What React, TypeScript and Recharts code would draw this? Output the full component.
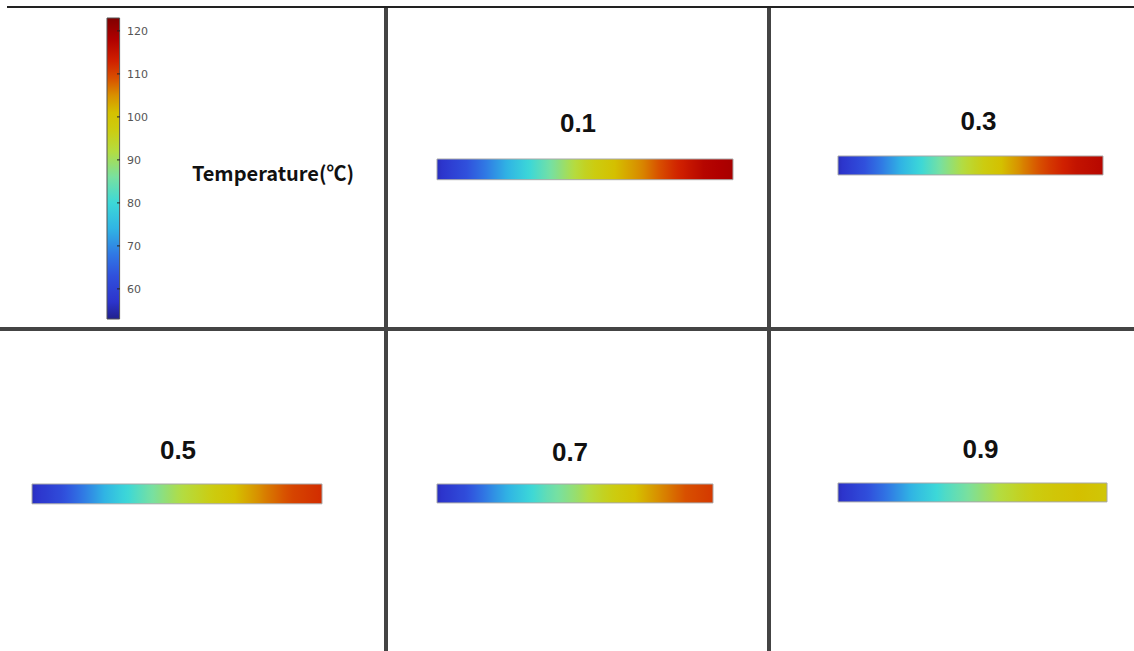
import React from 'react';
import { BarChart, Bar, XAxis, YAxis, LabelList, Label } from 'recharts';

// ---- colour map (temperature -> colour) ----
const CMAP_VALUES = [53, 57, 63, 68, 74, 80, 86, 92, 97, 101, 105, 109, 113, 118, 123];
const CMAP_COLORS = [
  '#20208c', '#2c34cc', '#3050dc', '#3078e4', '#30b4e4', '#3cd8d8', '#78e0a0',
  '#b4dc40', '#cccc10', '#d4c000', '#d89000', '#d85000', '#d02000', '#b00000', '#800000',
];

// ---- colour bar ----
const COLORBAR_DOMAIN = [53, 123];
const COLORBAR_TICKS = [60, 70, 80, 90, 100, 110, 120];
const COLORBAR_TITLE = 'Temperature(℃)';

// ---- panels ----
const PANEL_TITLES = ['0.1', '0.3', '0.5', '0.7', '0.9'];
const POSITIONS = [0, 0.1, 0.2, 0.3, 0.4, 0.5, 0.6, 0.7, 0.8, 0.9, 1.0];
const TEMPS_01 = [56, 63, 71, 79, 87, 95, 101, 106, 112, 117, 119];
const TEMPS_03 = [56, 63, 71, 79, 87, 94, 100, 106, 111, 115, 117];
const TEMPS_05 = [56, 62, 70, 78, 85, 91, 96, 101, 106, 110, 112];
const TEMPS_07 = [56, 62, 70, 77, 84, 89, 95, 100, 105, 109, 111];
const TEMPS_09 = [56, 62, 69, 76, 82, 87, 92, 96, 99, 101, 99];
const PANEL_TEMPS = [TEMPS_01, TEMPS_03, TEMPS_05, TEMPS_07, TEMPS_09];

// ---- layout (positions / sizes only) ----
const PANEL_LAYOUT = [
  { x: 437, y: 158, w: 296, h: 23, gap: 27, dx: -7 },
  { x: 838, y: 155, w: 265, h: 21, gap: 26, dx: 8 },
  { x: 32, y: 483, w: 290, h: 22, gap: 25, dx: 1 },
  { x: 437, y: 483, w: 276, h: 21, gap: 23, dx: -5 },
  { x: 838, y: 482, w: 269, h: 21, gap: 25, dx: 8 },
];

function hexToRgb(h: string) {
  const n = parseInt(h.slice(1), 16);
  return [(n >> 16) & 255, (n >> 8) & 255, n & 255];
}
function colorAt(v: number) {
  const vals = CMAP_VALUES;
  if (v <= vals[0]) return CMAP_COLORS[0];
  if (v >= vals[vals.length - 1]) return CMAP_COLORS[vals.length - 1];
  let i = 0;
  while (v > vals[i + 1]) i++;
  const t = (v - vals[i]) / (vals[i + 1] - vals[i]);
  const a = hexToRgb(CMAP_COLORS[i]);
  const b = hexToRgb(CMAP_COLORS[i + 1]);
  const c = a.map((x, k) => Math.round(x + (b[k] - x) * t));
  return `rgb(${c[0]},${c[1]},${c[2]})`;
}

// gradient stops for rendering (subdivided so the colour map is followed)
function gradientStops(temps: number[]) {
  const stops: { o: number; c: string }[] = [];
  const SUB = 6;
  for (let i = 0; i < temps.length - 1; i++) {
    for (let s = 0; s < SUB; s++) {
      const t = s / SUB;
      const o = POSITIONS[i] + (POSITIONS[i + 1] - POSITIONS[i]) * t;
      const v = temps[i] + (temps[i + 1] - temps[i]) * t;
      stops.push({ o, c: colorAt(v) });
    }
  }
  stops.push({ o: 1, c: colorAt(temps[temps.length - 1]) });
  return stops;
}

function ColorBar() {
  const [lo, hi] = COLORBAR_DOMAIN;
  const data = [{ name: 'cb', range: [lo, hi] }];
  return (
    <div style={{ position: 'absolute', left: 0, top: 0 }}>
      <BarChart width={426} height={330} data={data} margin={{ top: 18, right: 0, left: 106, bottom: 11 }}>
        <defs>
          <linearGradient id="cbGrad" x1="0" y1="1" x2="0" y2="0">
            {CMAP_VALUES.map((v, i) => (
              <stop key={i} offset={(v - lo) / (hi - lo)} stopColor={CMAP_COLORS[i]} />
            ))}
          </linearGradient>
        </defs>
        <XAxis dataKey="name" hide />
        <YAxis yAxisId="l" orientation="left" type="number" width={0} domain={COLORBAR_DOMAIN} ticks={COLORBAR_TICKS}
          tickSize={-3} tick={false} axisLine={false} tickLine={{ stroke: '#222' }} />
        <YAxis yAxisId="r" orientation="right" type="number" width={306} domain={COLORBAR_DOMAIN} ticks={COLORBAR_TICKS}
          tickSize={-3} tickMargin={10} axisLine={false} tickLine={{ stroke: '#222' }}
          tick={{ fontSize: 11, fill: '#555', fontFamily: 'DejaVu Sans, sans-serif' }}>
          <Label value={COLORBAR_TITLE} position="center" dy={5}
            style={{ fontSize: 20, fontWeight: 'bold', fill: '#111', fontFamily: '"Noto Sans CJK SC", "Noto Sans", sans-serif' }} />
        </YAxis>
        <Bar yAxisId="r" dataKey="range" fill="url(#cbGrad)" stroke="#555" strokeWidth={1} barSize={14} isAnimationActive={false} />
      </BarChart>
    </div>
  );
}

function Panel({ idx }: { idx: number }) {
  const L = PANEL_LAYOUT[idx];
  const title = PANEL_TITLES[idx];
  const data = [{ name: title, len: 1 }];
  const TOP = 60;
  const stops = gradientStops(PANEL_TEMPS[idx]);
  return (
    <div style={{ position: 'absolute', left: L.x - 1, top: L.y - TOP }}>
      <BarChart width={L.w + 2} height={L.h + TOP + 1} layout="vertical" data={data}
        margin={{ top: TOP, left: 1, right: 1, bottom: 1 }}>
        <defs>
          <linearGradient id={`pg${idx}`} x1="0" y1="0" x2="1" y2="0">
            {stops.map((s, i) => <stop key={i} offset={s.o} stopColor={s.c} />)}
          </linearGradient>
        </defs>
        <XAxis type="number" domain={[0, 1]} hide />
        <YAxis type="category" dataKey="name" hide />
        <Bar dataKey="len" fill={`url(#pg${idx})`} stroke="#a8a8a8" strokeWidth={1} barSize={L.h} isAnimationActive={false}>
          <LabelList dataKey="name" position="top" offset={L.gap} dx={L.dx} fontSize={26} fontWeight="bold" fill="#111"
            fontFamily="Liberation Sans, Arial, sans-serif" />
        </Bar>
      </BarChart>
    </div>
  );
}

export default function App() {
  const line = '#444';
  return (
    <div style={{ position: 'relative', width: 1134, height: 651, background: '#fff', overflow: 'hidden' }}>
      <style>{'body{margin:0}'}</style>
      <div style={{ position: 'absolute', left: 7, top: 6, width: 1127, height: 2, background: '#222' }} />
      <div style={{ position: 'absolute', left: 384, top: 8, width: 4, height: 643, background: line }} />
      <div style={{ position: 'absolute', left: 767, top: 8, width: 4, height: 643, background: line }} />
      <div style={{ position: 'absolute', left: 0, top: 327, width: 1134, height: 4, background: line }} />
      <ColorBar />
      {PANEL_TITLES.map((_, i) => <Panel key={i} idx={i} />)}
    </div>
  );
}
